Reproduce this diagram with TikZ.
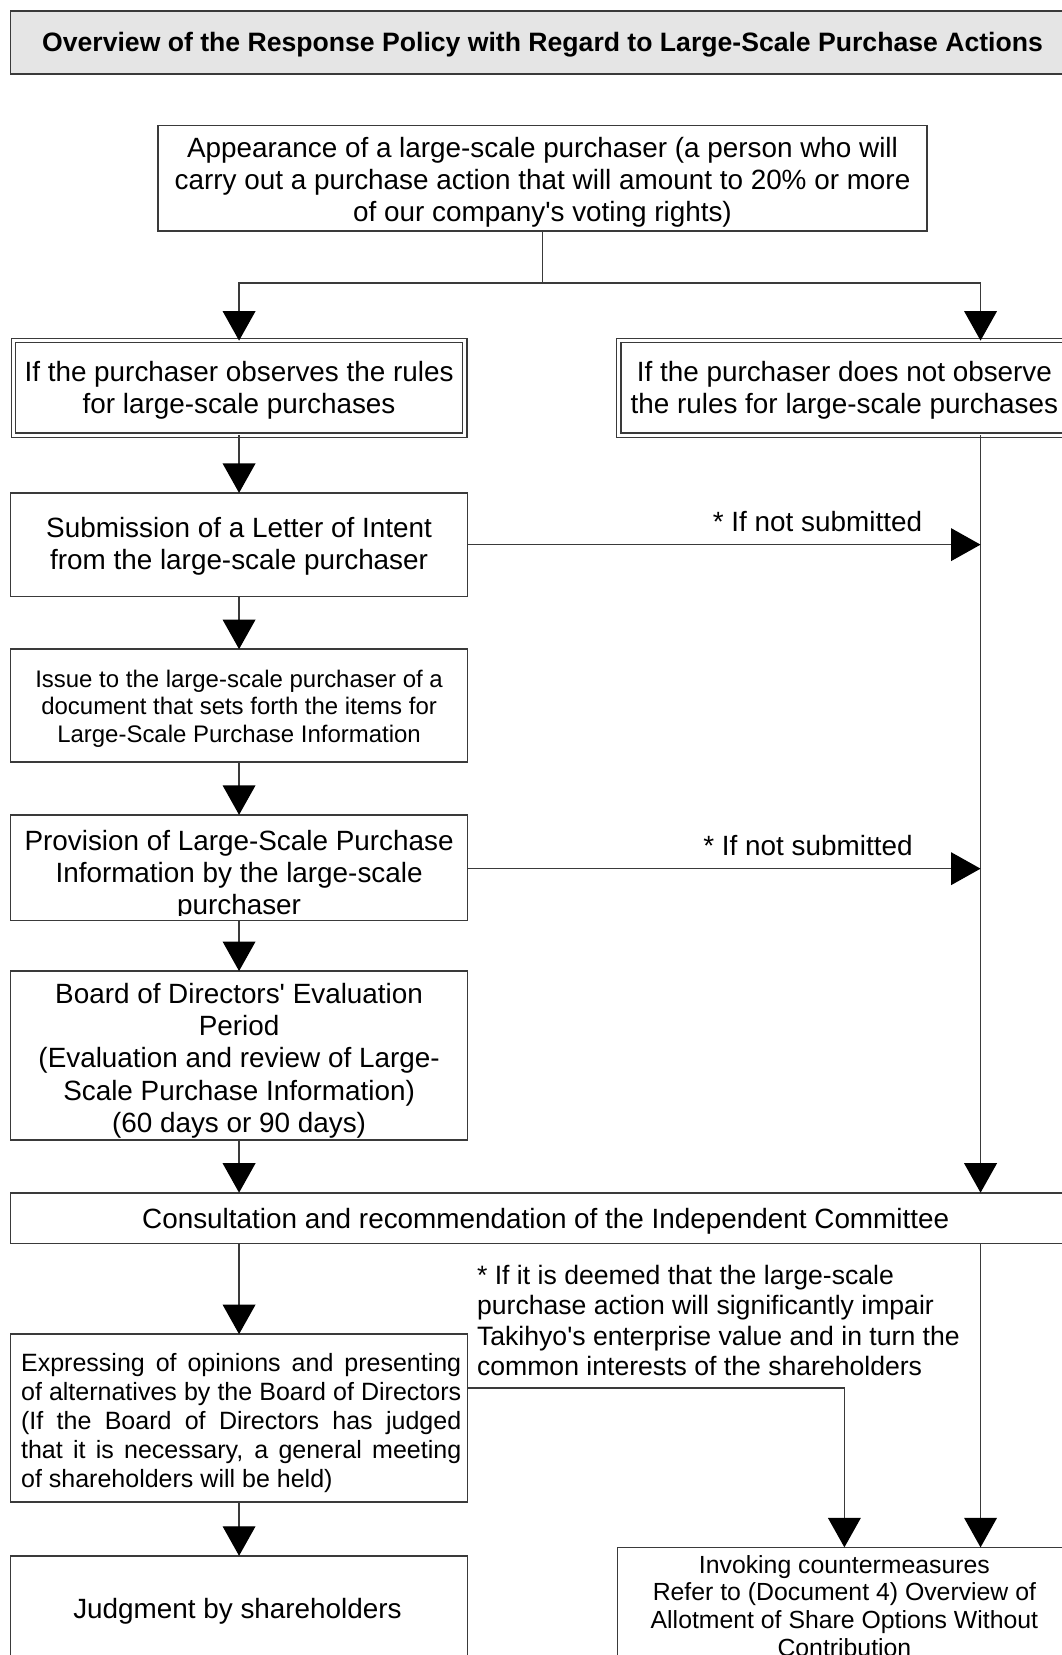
\documentclass[tikz,border=0pt]{standalone}
\usepackage{fontspec}
\setmainfont{Liberation Sans}[Ligatures=TeXOff]
\usetikzlibrary{arrows.meta,calc}
\definecolor{lc}{HTML}{3A3A3A}
\definecolor{tfill}{HTML}{E5E5E5}
\newcommand\fmainx{\fontsize{26.4}{30.4}\selectfont}
\newcommand\fsmallx{\fontsize{22.7}{26}\selectfont}
\newcommand\fexprx{\fontsize{23.7}{27.5}\selectfont}
\newcommand\finvx{\fontsize{23.5}{26.3}\selectfont}
\newcommand\flblx{\fontsize{25.2}{28.7}\selectfont}
\newcommand\ftitlex{\fontsize{25.2}{29}\selectfont\bfseries}
\begin{document}
\begin{tikzpicture}[x=1pt,y=-1pt,
  box/.style={draw=lc,line width=1.6pt,fill=white,inner sep=0pt,outer sep=0pt},
  dbox/.style={draw=lc,line width=1.2pt,double=white,double distance=3pt,inner sep=0pt,outer sep=0pt},
  tbox/.style={draw=lc,line width=1.6pt,fill=tfill,inner sep=0pt},
  txt/.style={inner sep=0pt,outer sep=0pt,align=center,font=\fmainx},
  conn/.style={draw=lc,line width=1.4pt},
  arr/.style={conn,-{Triangle[length=28pt,width=31pt,color=black]}},
]
\useasboundingbox (0,0) rectangle (1006,1568);
\clip (0,0) rectangle (1006,1568);
\fill[white] (0,0) rectangle (1006,1568);

% title
\node[tbox,minimum width=1010pt,minimum height=59.5pt] (title) at (515,40.25) {};
\node[txt,font=\ftitlex] (titletx) at (514,42)
  {Overview of the Response Policy with Regard to Large-Scale Purchase Actions};

% boxes
\node[box,minimum width=728pt,minimum height=100pt] (top) at (514,169) {};
\node[txt] (toptx) at (514,172.5)
  {Appearance of a large-scale purchaser (a person who will\\carry out a purchase action that will amount to 20\% or more\\of our company's voting rights)};
\node[dbox,minimum width=427.6pt,minimum height=89.6pt] (obs) at (226.5,367.5) {};
\node[txt] (obstx) at (226.5,369.5)
  {If the purchaser observes the rules\\for large-scale purchases};
\node[dbox,minimum width=427.6pt,minimum height=89.6pt] (nobs) at (800,367.5) {};
\node[txt] (nobstx) at (800,370)
  {If the purchaser does not observe\\the rules for large-scale purchases};
\node[box,minimum width=433pt,minimum height=98pt] (sub) at (226.5,516) {};
\node[txt] (subtx) at (226.5,518)
  {Submission of a Letter of Intent\\from the large-scale purchaser};
\node[box,minimum width=433pt,minimum height=107pt] (issue) at (226.5,668.5) {};
\node[txt,font=\fsmallx] (issuetx) at (226.5,671.5)
  {Issue to the large-scale purchaser of a\\document that sets forth the items for\\Large-Scale Purchase Information};
\node[box,minimum width=433pt,minimum height=100pt] (prov) at (226.5,822) {};
\begin{scope}
  \clip (10,772) rectangle (443,867);
  \node[txt] (provtx) at (226.5,829.5)
    {Provision of Large-Scale Purchase\\Information by the large-scale\\purchaser};
\end{scope}
\node[box,minimum width=433pt,minimum height=160pt] (eval) at (226.5,1000) {};
\node[txt] (evaltx) at (226.5,1005)
  {Board of Directors' Evaluation\\Period\\(Evaluation and review of Large-\\Scale Purchase Information)\\(60 days or 90 days)};
\node[box,minimum width=1010pt,minimum height=48pt] (cons) at (515,1154) {};
\node[txt] (constx) at (517,1157)
  {Consultation and recommendation of the Independent Committee};
\node[box,minimum width=433pt,minimum height=159pt] (expr) at (226.5,1343.5) {};
\node[txt,align=left,font=\fexprx] (exprtx) at (228.5,1348.5)
  {\makebox[417pt][s]{Expressing of opinions and presenting}\\
   \makebox[417pt][s]{of alternatives by the Board of Directors}\\
   \makebox[417pt][s]{(If the Board of Directors has judged}\\
   \makebox[417pt][s]{that it is necessary, a general meeting}\\
   of shareholders will be held)};
\node[box,minimum width=433pt,minimum height=126pt] (judg) at (226.5,1537) {};
\node[txt] (judgtx) at (225,1527) {Judgment by shareholders};
\node[box,minimum width=430pt,minimum height=134pt] (inv) at (800,1533) {};
\node[txt,font=\finvx] (invtx) at (800,1521.5)
  {Invoking countermeasures\\Refer to (Document 4) Overview of\\Allotment of Share Options Without\\Contribution};

% labels
\node[txt] (l1) at (774.5,494) {* If not submitted};
\node[txt] (l2) at (765.5,801) {* If not submitted};
\node[txt,align=left,anchor=west,font=\flblx] (l3) at (452,1251)
  {* If it is deemed that the large-scale\\purchase action will significantly impair\\Takihyo's enterprise value and in turn the\\common interests of the shareholders};

% connectors
\coordinate (rx) at (929,0);
\coordinate (split) at (514,268);
\draw[conn] (top.south) -- (split);
\draw[arr] (split) -| (obs.north);
\draw[arr] (split) -| (nobs.north -| rx);
\draw[arr] (obs.south) -- (sub.north);
\draw[arr] (nobs.south -| rx) -- (cons.north -| rx);
\draw[arr] (sub.east) -- (sub.east -| rx);
\draw[arr] (sub.south) -- (issue.north);
\draw[arr] (issue.south) -- (prov.north);
\draw[arr] ([yshift=-1pt]prov.east) -- ([yshift=-1pt]prov.east -| rx);
\draw[arr] (prov.south) -- (eval.north);
\draw[arr] (eval.south) -- (eval.south |- cons.north);
\draw[arr] (expr.north |- cons.south) -- (expr.north);
\draw[arr] ([yshift=28.5pt]expr.east) -| (inv.north);
\draw[arr] (cons.south -| rx) -- (inv.north -| rx);
\draw[arr] (expr.south) -- (judg.north);
\end{tikzpicture}
\end{document}
